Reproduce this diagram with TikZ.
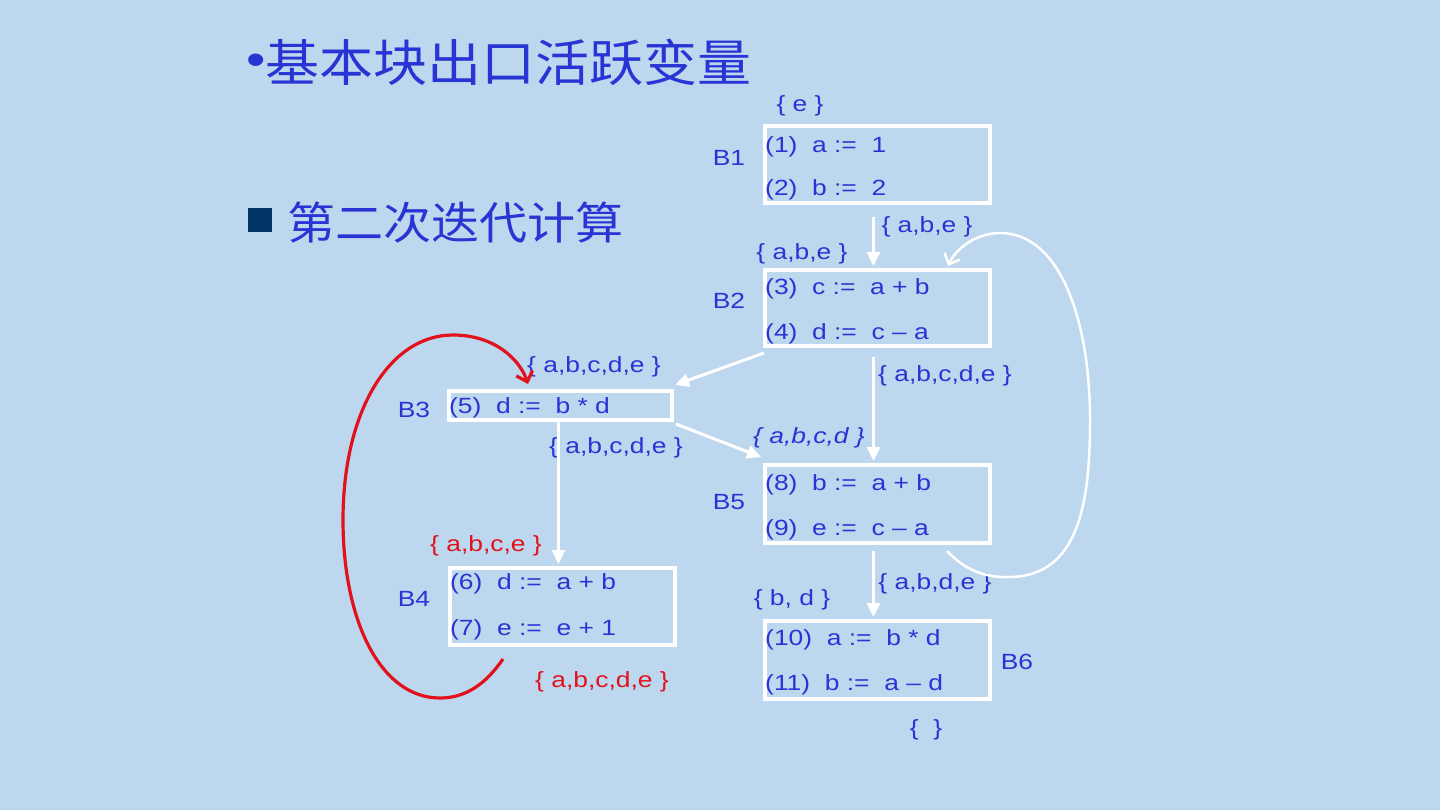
\documentclass[tikz,border=0pt]{standalone}
\usepackage{fontspec}
\setmainfont{Liberation Sans}[FakeStretch=1.2]
\newfontfamily\cjk{Noto Sans CJK SC}[FakeStretch=1.08]
\usetikzlibrary{arrows.meta}
\definecolor{bg}{RGB}{189,215,238}
\definecolor{tblue}{RGB}{40,52,212}
\definecolor{lred}{RGB}{226,18,28}
\definecolor{navy}{RGB}{0,51,102}
\begin{document}
\begin{tikzpicture}[x=1pt,y=-1pt,
  blk/.style={draw=white,line width=4pt,inner sep=0pt},
  code/.style={anchor=west,inner sep=0pt,text=tblue,font=\fontsize{22}{26}\selectfont},
  lbl/.style={inner sep=0pt,text=tblue,font=\fontsize{22}{26}\selectfont},
  setr/.style={lbl,text=lred},
  warr/.style={draw=white,line width=3pt,-{Triangle[length=14pt,width=13pt]}},
  wloop/.style={draw=white,line width=2.5pt,-{Straight Barb[length=9pt,width=17pt]}},
  rloop/.style={draw=lred,line width=3.2pt,-{Straight Barb[length=9pt,width=17pt]}}]
\fill[bg] (0,0) rectangle (1440,810);
\useasboundingbox (0,0) rectangle (1440,810);

% titles
\node[anchor=west,inner sep=0pt,text=tblue] (bul) at (246,65)
  {\fontsize{46}{50}\selectfont •};
\node[anchor=west,inner sep=0pt,text=tblue] (title) at (265,62)
  {\cjk\fontsize{50}{56}\selectfont 基本块出口活跃变量};
\node[fill=navy,minimum size=24pt,inner sep=0pt] (sq) at (260,220) {};
\node[anchor=west,inner sep=0pt,text=tblue] (sub) at (287,223)
  {\cjk\fontsize{44.5}{50}\selectfont 第二次迭代计算};

% blocks
\node[blk,minimum width=225pt,minimum height=77pt] (b1) at (877.5,164.5) {};
\node[blk,minimum width=225pt,minimum height=76pt] (b2) at (877.5,308) {};
\node[blk,minimum width=223pt,minimum height=29pt] (b3) at (560.5,405.5) {};
\node[blk,minimum width=225pt,minimum height=77pt] (b4) at (562.5,606.5) {};
\node[blk,minimum width=225pt,minimum height=78pt] (b5) at (877.5,504) {};
\node[blk,minimum width=225pt,minimum height=78pt] (b6) at (877.5,660) {};

% code lines
\node[code] (c1) at (765,147) {(1)\ \ a :=\ \ 1};
\node[code] (c2) at (765,190) {(2)\ \ b :=\ \ 2};
\node[code] (c3) at (765,289) {(3)\ \ c :=\ \ a + b};
\node[code] (c4) at (765,334) {(4)\ \ d :=\ \ c – a};
\node[code] (c5) at (449,408) {(5)\ \ d :=\ \ b * d};
\node[code] (c6) at (450,584) {(6)\ \ d :=\ \ a + b};
\node[code] (c7) at (450,630) {(7)\ \ e :=\ \ e + 1};
\node[code] (c8) at (765,485) {(8)\ \ b :=\ \ a + b};
\node[code] (c9) at (765,530) {(9)\ \ e :=\ \ c – a};
\node[code] (c10) at (765,640) {(10)\ \ a :=\ \ b * d};
\node[code] (c11) at (765,685) {(11)\ \ b :=\ \ a – d};

% block labels
\node[lbl] (l1) at (729,158) {B1};
\node[lbl] (l2) at (729,301) {B2};
\node[lbl] (l3) at (414,410) {B3};
\node[lbl] (l4) at (414,599) {B4};
\node[lbl] (l5) at (729,502) {B5};
\node[lbl] (l6) at (1017,662) {B6};

% sets
\node[lbl] (s1) at (800,106) {\{ e \}};
\node[lbl] (s2) at (927,227) {\{ a,b,e \}};
\node[lbl] (s3) at (802,254) {\{ a,b,e \}};
\node[lbl] (s4) at (594,367) {\{ a,b,c,d,e \}};
\node[lbl] (s5) at (945,376) {\{ a,b,c,d,e \}};
\node[lbl] (s6) at (809,438) {\itshape\{ a,b,c,d \}};
\node[lbl] (s7) at (616,448) {\{ a,b,c,d,e \}};
\node[setr] (s8) at (486,546) {\{ a,b,c,e \}};
\node[lbl] (s9) at (935,584) {\{ a,b,d,e \}};
\node[lbl] (s10) at (792,600) {\{ b, d \}};
\node[setr] (s11) at (602,682) {\{ a,b,c,d,e \}};
\node[lbl] (s12) at (926,730) {\{\ \ \}};

% straight edges
\draw[warr] ([xshift=-4pt,yshift=-12pt]b1.south) -- ([xshift=-4pt,yshift=2pt]b2.north);
\draw[warr] ([xshift=-4pt,yshift=-9pt]b2.south) -- ([xshift=-4pt,yshift=2pt]b5.north);
\draw[warr] ([xshift=-4pt,yshift=-6pt]b5.south) -- ([xshift=-4pt,yshift=2pt]b6.north);
\draw[warr] ([xshift=-2pt]b3.south) -- ([xshift=-4pt,yshift=2pt]b4.north);
\draw[warr] ([xshift=1pt,yshift=-5pt]b2.south west) -- ([xshift=1pt,yshift=4pt]b3.north east);
\draw[warr] ([xshift=2pt,yshift=-2pt]b3.south east) -- ([xshift=-2pt,yshift=6pt]b5.north west);

% back edge B5 -> B2
\draw[wloop] ([xshift=-45pt,yshift=-6pt]b5.south east)
  .. controls (965,570) and (985,578) .. (1010,577)
  .. controls (1080,576) and (1090,500) .. (1090,420)
  .. controls (1090,320) and (1060,233) .. (1000,233)
  .. controls (975,233) and (955,250) .. ([xshift=-44pt,yshift=2pt]b2.north east);

% back edge B4 -> B3 (red)
\draw[rloop] ([xshift=-59.5pt,yshift=-12pt]b4.south)
  .. controls (485,685) and (465,698) .. (440,698)
  .. controls (380,698) and (343,620) .. (343,520)
  .. controls (343,410) and (390,335) .. (453,335)
  .. controls (495,335) and (520,360) .. ([xshift=-32.5pt,yshift=5pt]b3.north);
\end{tikzpicture}
\end{document}
